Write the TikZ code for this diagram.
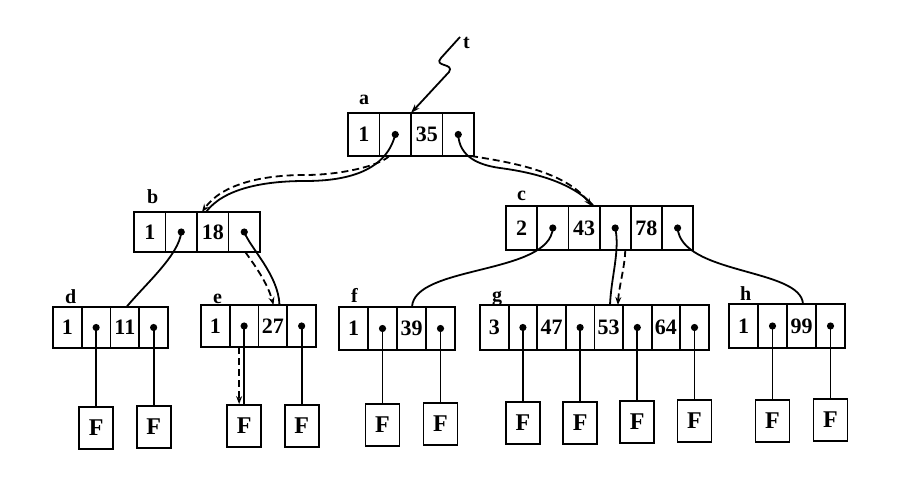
\documentclass[tikz,border=0pt]{standalone}
\usepackage{fontspec}
\setmainfont{Liberation Serif}
\usetikzlibrary{arrows.meta}
\begin{document}
\begin{tikzpicture}[x=1pt,y=-1pt,
  cell/.style={draw, line width=1.8pt, inner sep=0pt, outer sep=0pt, anchor=north west,
    font=\bfseries\fontsize{22}{22}\selectfont},
  fbox/.style={draw, line width=1.8pt, inner sep=0pt, minimum width=34pt, minimum height=42pt,
    font=\bfseries\fontsize{24}{24}\selectfont},
  lbl/.style={anchor=base west, inner sep=0pt, font=\bfseries\fontsize{20}{20}\selectfont},
  conn/.style={line width=1.8pt},
  dconn/.style={line width=1.8pt, dash pattern=on 7pt off 4pt, -{Stealth[length=8pt,width=6pt]}}]
\useasboundingbox (0,0) rectangle (901,489);
\fill[white] (0,0) rectangle (901,489);

% records
\foreach \v [count=\i] in {1,{},35,{}}
  \node[cell, minimum width=31.5pt, minimum height=43pt] (a\i) at ({348+(\i-1)*31.5},113) {\v};
\foreach \v [count=\i] in {1,{},18,{}}
  \node[cell, minimum width=31.5pt, minimum height=40pt] (b\i) at ({134+(\i-1)*31.5},212) {\v};
\foreach \v [count=\i] in {2,{},43,{},78,{}}
  \node[cell, minimum width=31.2pt, minimum height=44pt] (c\i) at ({506+(\i-1)*31.2},206) {\v};
\foreach \v [count=\i] in {1,{},11,{}}
  \node[cell, minimum width=28.75pt, minimum height=41pt] (d\i) at ({53+(\i-1)*28.75},307) {\v};
\foreach \v [count=\i] in {1,{},27,{}}
  \node[cell, minimum width=28.75pt, minimum height=42pt] (e\i) at ({201+(\i-1)*28.75},305) {\v};
\foreach \v [count=\i] in {1,{},39,{}}
  \node[cell, minimum width=29pt, minimum height=43pt] (f\i) at ({339+(\i-1)*29},307) {\v};
\foreach \v [count=\i] in {3,{},47,{},53,{},64,{}}
  \node[cell, minimum width=28.6pt, minimum height=45pt] (g\i) at ({480+(\i-1)*28.6},305) {\v};
\foreach \v [count=\i] in {1,{},99,{}}
  \node[cell, minimum width=29pt, minimum height=44pt] (h\i) at ({729+(\i-1)*29},304) {\v};

% labels
\node[lbl] (la) at (359,105) {a};
\node[lbl] (lb) at (147,203) {b};
\node[lbl] (lc) at (517,200) {c};
\node[lbl] (ld) at (65,303) {d};
\node[lbl] (le) at (213,303) {e};
\node[lbl] (lf) at (351,302) {f};
\node[lbl] (lg) at (492,301) {g};
\node[lbl] (lh) at (740,300) {h};
\node[lbl] (lt) at (463,49) {t};

% leaf boxes
\foreach \n/\y in {d2/428,d4/427,e2/426,e4/426,f2/425,f4/424,g2/423,g4/423,g6/422,g8/421,h2/421,h4/420}{
  \node[fbox] (F\n) at (\n.center |- 0,\y) {F};
  \draw[conn] (\n.center) -- (F\n.north);
}

% dots
\foreach \n in {a2,a4,b2,b4,c2,c4,c6,d2,d4,e2,e4,f2,f4,g2,g4,g6,g8,h2,h4}
  \fill (\n.center) circle (3.6pt);

% t pointer
\coordinate (tend) at (460,37);
\draw[conn, -{Stealth[length=9pt,width=6pt]}] (tend) -- (441,58) .. controls (433,67) and (455,63) .. (449,72) -- (a3.north west);

% a -> b
\draw[conn] (a2.center) .. controls +(-10,40) and +(35,0) .. (305,181)
  .. controls +(-40,0) and +(18,-24) .. ([xshift=9pt]b3.north west);
\draw[dconn] ([xshift=-6pt]a2.south) .. controls +(-10,10) and +(35,0) .. (305,175)
  .. controls +(-43,0) and +(20,-28) .. ([xshift=5pt]b3.north west);

% a -> c
\draw[conn] (a4.center) .. controls +(1,22) and +(-22,-3) .. (500,168)
  .. controls +(30,4) and +(-22,-25) .. ([xshift=-6pt]c3.north east);
\draw[dconn] ([xshift=-3pt]a4.south east) .. controls +(38,6) and +(-26,-35) .. ([xshift=-8pt]c3.north east);

% b -> d, b -> e
\draw[conn] (b2.center) .. controls +(-2,23) and +(18,-22) .. ([xshift=16pt]d3.north west);
\draw[conn] (b4.center) .. controls +(6,16) and +(-1,-30) .. ([xshift=21pt]e3.north west);
\draw[dconn] ([xshift=1pt]b4.south) .. controls +(10,14) and +(-6,-22) .. ([xshift=15pt]e3.north west);

% c -> f, g, h
\draw[conn] (c2.center) .. controls +(-3,47) and +(2,-42) .. ([xshift=15pt]f3.north west);
\draw[conn] (c4.center) .. controls +(5,22) and +(1,-27) .. ([xshift=15.6pt]g5.north west);
\draw[dconn] ([xshift=10pt]c4.south) .. controls +(0,15) and +(1,-18) .. ([xshift=23.5pt]g5.north west);
\draw[conn] (c6.center) .. controls +(4,47) and +(-2,-36) .. ([xshift=16pt]h3.north west);

% search path to leaf
\draw[dconn] ([xshift=-5pt]e2.south) -- ([xshift=-5pt]Fe2.north);
\end{tikzpicture}
\end{document}
